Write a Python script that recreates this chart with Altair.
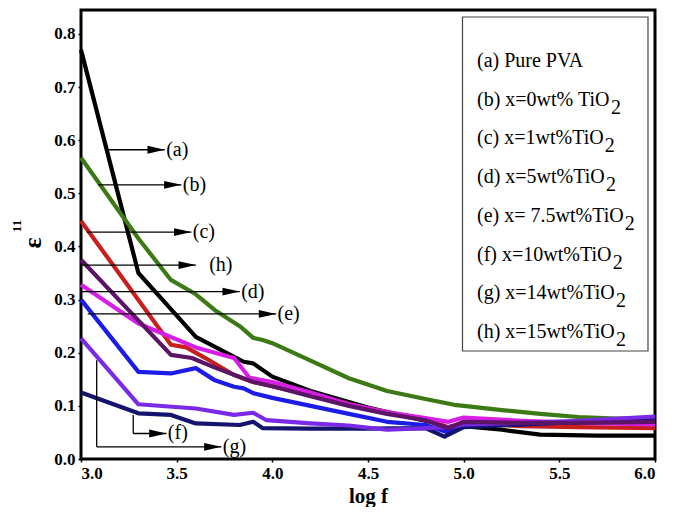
import altair as alt
import pandas as pd

# ---------------- data ----------------
series_names = ["a", "b", "c", "d", "e", "f", "g", "h"]
series_colors = ["#000000", "#3b7a14", "#c81e1e", "#d81ee6", "#1c1ce8", "#14146e", "#7a2ae6", "#5c1466"]

a_x = [3.0, 3.3, 3.45, 3.6, 3.85, 3.9, 4.0, 4.2, 4.5, 4.7, 4.85, 4.92, 5.0, 5.2, 5.4, 5.7, 6.0]
a_y = [0.77, 0.35, 0.29, 0.23, 0.183, 0.18, 0.155, 0.128, 0.097, 0.08, 0.068, 0.055, 0.062, 0.055, 0.046, 0.044, 0.044]

b_x = [3.0, 3.3, 3.47, 3.6, 3.7, 3.83, 3.9, 3.95, 4.0, 4.2, 4.4, 4.6, 4.8, 4.95, 5.0, 5.2, 5.4, 5.6, 5.8, 6.0]
b_y = [0.567, 0.415, 0.337, 0.31, 0.28, 0.25, 0.228, 0.224, 0.218, 0.185, 0.152, 0.128, 0.113, 0.102, 0.10, 0.092, 0.085, 0.079, 0.076, 0.077]

c_x = [3.0, 3.47, 3.55, 3.65, 3.8, 3.9, 4.0, 4.2, 4.5, 4.8, 4.92, 5.0, 5.3, 5.6, 6.0]
c_y = [0.448, 0.215, 0.21, 0.19, 0.158, 0.145, 0.137, 0.12, 0.095, 0.075, 0.06, 0.068, 0.062, 0.06, 0.058]

d_x = [3.0, 3.3, 3.6, 3.8, 3.88, 4.0, 4.2, 4.4, 4.6, 4.8, 4.92, 5.0, 5.3, 5.6, 6.0]
d_y = [0.328, 0.255, 0.21, 0.19, 0.153, 0.145, 0.125, 0.103, 0.088, 0.077, 0.07, 0.078, 0.072, 0.068, 0.065]

e_x = [3.0, 3.3, 3.47, 3.6, 3.7, 3.8, 3.85, 3.9, 4.0, 4.2, 4.4, 4.6, 4.8, 4.92, 5.0, 5.3, 5.6, 6.0]
e_y = [0.30, 0.164, 0.161, 0.171, 0.148, 0.136, 0.133, 0.124, 0.115, 0.10, 0.085, 0.07, 0.064, 0.05, 0.062, 0.065, 0.07, 0.075]

f_x = [3.0, 3.3, 3.47, 3.6, 3.83, 3.9, 3.95, 4.2, 4.5, 4.8, 4.9, 5.0, 5.3, 5.6, 6.0]
f_y = [0.125, 0.086, 0.083, 0.067, 0.064, 0.07, 0.058, 0.057, 0.057, 0.058, 0.042, 0.06, 0.065, 0.07, 0.077]

g_x = [3.0, 3.3, 3.6, 3.8, 3.9, 3.97, 4.2, 4.4, 4.6, 4.8, 4.92, 5.0, 5.3, 5.6, 6.0]
g_y = [0.227, 0.103, 0.095, 0.083, 0.087, 0.073, 0.067, 0.063, 0.055, 0.058, 0.06, 0.065, 0.068, 0.072, 0.08]

h_x = [3.0, 3.47, 3.58, 3.7, 3.9, 4.0, 4.2, 4.4, 4.6, 4.8, 4.92, 5.0, 5.3, 5.6, 6.0]
h_y = [0.375, 0.196, 0.19, 0.172, 0.145, 0.137, 0.118, 0.10, 0.085, 0.073, 0.058, 0.07, 0.068, 0.068, 0.07]

legend_labels = ["(a) Pure PVA", "(b) x=0wt% TiO", "(c) x=1wt%TiO", "(d) x=5wt%TiO",
                 "(e) x= 7.5wt%TiO", "(f) x=10wt%TiO", "(g) x=14wt%TiO", "(h) x=15wt%TiO"]
legend_sub = ["", "2", "2", "2", "2", "2", "2", "2"]

# arrow annotations: label, start x, tip x, y, label x
arrow_labels = ["(a)", "(b)", "(c)", "(h)", "(d)", "(e)", "(f)", "(g)"]
arrow_x1 = [3.142, 3.09, 3.03, 3.0, 3.0, 3.035, 3.273, 3.082]
arrow_x2 = [3.438, 3.525, 3.577, 3.60, 3.83, 4.02, 3.447, 3.734]
arrow_y = [0.582, 0.516, 0.427, 0.365, 0.315, 0.273, 0.048, 0.023]
arrow_lx = [3.445, 3.532, 3.584, 3.67, 3.837, 4.027, 3.454, 3.741]
# bracket verticals for (f) and (g): x, y top, y bottom
bracket_x = [3.273, 3.082]
bracket_y1 = [0.083, 0.186]
bracket_y2 = [0.048, 0.023]

x_ticks = [3.0, 3.5, 4.0, 4.5, 5.0, 5.5, 6.0]
y_ticks = [0.0, 0.1, 0.2, 0.3, 0.4, 0.5, 0.6, 0.7, 0.8]

# ---------------- layout helpers ----------------
W, H = 574, 449
XD = [3.0, 6.0]
YD = [0.0, 0.845]
FONT = "Liberation Serif"


def px_x(p):  # pixel offset from plot left -> data x
    return XD[0] + p * (XD[1] - XD[0]) / W


def px_y(p):  # pixel offset from plot top -> data y
    return YD[1] - p * (YD[1] - YD[0]) / H


TIMES = {'(': 333, ')': 333, ' ': 250, 'a': 444, 'b': 500, 'c': 444, 'd': 500, 'e': 444,
         'f': 333, 'g': 500, 'h': 500, 'x': 500, '=': 564, '.': 250, 'w': 722, 't': 278,
         '%': 833, 'T': 611, 'i': 278, 'O': 722, 'P': 556, 'u': 500, 'r': 333, 'V': 722, 'A': 722}


def text_w(s, size):
    return sum(TIMES.get(ch, 500) for ch in s) * size / 1000.0


# ---------------- data frames ----------------
rows = []
for name, xs_, ys_ in zip(series_names,
                          [a_x, b_x, c_x, d_x, e_x, f_x, g_x, h_x],
                          [a_y, b_y, c_y, d_y, e_y, f_y, g_y, h_y]):
    for xv, yv in zip(xs_, ys_):
        rows.append({"series": name, "logf": xv, "eps": yv})
df = pd.DataFrame(rows)

arrows = pd.DataFrame({"lab": arrow_labels, "x1": arrow_x1, "x2": arrow_x2,
                       "y": arrow_y, "lx": arrow_lx})
brackets = pd.DataFrame({"x": bracket_x, "y1": bracket_y1, "y2": bracket_y2})

LEG_FS = 20
leg_left = 396
leg_rows = []
for i, (lab, sub) in enumerate(zip(legend_labels, legend_sub)):
    cy = 51 + i * 38.7
    leg_rows.append({"t": lab, "x": px_x(leg_left), "y": px_y(cy)})
sub_rows = []
for i, (lab, sub) in enumerate(zip(legend_labels, legend_sub)):
    if sub:
        cy = 51 + i * 38.7
        sub_rows.append({"t": sub, "x": px_x(leg_left + text_w(lab, LEG_FS) + 0.5), "y": px_y(cy + 8)})
leg_df = pd.DataFrame(leg_rows)
sub_df = pd.DataFrame(sub_rows)
box_df = pd.DataFrame([{"x": px_x(381.5), "x2": px_x(567), "y": px_y(7), "y2": px_y(341)}])

xs = alt.Scale(domain=XD, nice=False, zero=False)
ys = alt.Scale(domain=YD, nice=False, zero=False)

lines = alt.Chart(df).mark_line(strokeWidth=4.2, strokeJoin="round").encode(
    x=alt.X("logf:Q", scale=xs,
            axis=alt.Axis(values=x_ticks, format=".1f", title="log f", grid=False,
                          domain=False, tickSize=3, tickColor="black", tickWidth=1.5,
                          labelFont=FONT, labelFontWeight="bold", labelFontSize=17,
                          labelColor="black", labelPadding=3,
                          titleFont=FONT, titleFontWeight="bold", titleFontSize=21,
                          titleColor="black", titlePadding=4)),
    y=alt.Y("eps:Q", scale=ys,
            axis=alt.Axis(values=y_ticks, format=".1f", title=None, grid=False,
                          domain=False, tickSize=3, tickColor="black", tickWidth=1.5,
                          labelFont=FONT, labelFontWeight="bold", labelFontSize=17,
                          labelColor="black", labelPadding=3)),
    color=alt.Color("series:N", scale=alt.Scale(domain=series_names, range=series_colors), legend=None),
)

arrow_lines = alt.Chart(arrows).mark_rule(color="black", strokeWidth=1.3).encode(
    x="x1:Q", x2="x2:Q", y="y:Q")
bracket_lines = alt.Chart(brackets).mark_rule(color="black", strokeWidth=1.3).encode(
    x="x:Q", y="y1:Q", y2="y2:Q")
heads = alt.Chart(arrows).mark_point(
    shape="M 0 0 L -2 -0.45 L -2 0.45 Z", filled=True, size=300, color="black",
    opacity=1, strokeWidth=0).encode(
    x="x2:Q", y="y:Q")
arrow_text = alt.Chart(arrows).mark_text(
    align="left", baseline="middle", font=FONT, fontSize=20, color="black").encode(
    x="lx:Q", y="y:Q", text="lab:N")

box = alt.Chart(box_df).mark_rect(fill="white", stroke="#444444", strokeWidth=1.2).encode(
    x="x:Q", x2="x2:Q", y="y:Q", y2="y2:Q")
leg_text = alt.Chart(leg_df).mark_text(
    align="left", baseline="middle", font=FONT, fontSize=LEG_FS, color="black").encode(
    x="x:Q", y="y:Q", text="t:N")
leg_sub = alt.Chart(sub_df).mark_text(
    align="left", baseline="middle", font=FONT, fontSize=LEG_FS, color="black").encode(
    x="x:Q", y="y:Q", text="t:N")

ytitle_df = pd.DataFrame([{"t": "ε", "x": px_x(33 - 81), "y": px_y(243 - 10)}])
ysup_df = pd.DataFrame([{"t": "11", "x": px_x(17 - 81), "y": px_y(226 - 10)}])
ytitle = alt.Chart(ytitle_df).mark_text(
    angle=270, align="center", baseline="middle", font=FONT, fontSize=26,
    fontWeight="bold", color="black").encode(x="x:Q", y="y:Q", text="t:N")
ysup = alt.Chart(ysup_df).mark_text(
    angle=270, align="center", baseline="middle", font=FONT, fontSize=13,
    fontWeight="bold", color="black").encode(x="x:Q", y="y:Q", text="t:N")

chart = alt.layer(
    lines, arrow_lines, bracket_lines, heads, arrow_text, box, leg_text, leg_sub, ytitle, ysup
).properties(
    width=W, height=H,
    autosize=alt.AutoSizeParams(type="none"),
    padding={"left": 73, "top": 2, "right": 13, "bottom": 48},
    background="white",
).configure_view(stroke="black", strokeWidth=3)

chart.save("out.html", embed_options={"renderer": "svg", "actions": False})
